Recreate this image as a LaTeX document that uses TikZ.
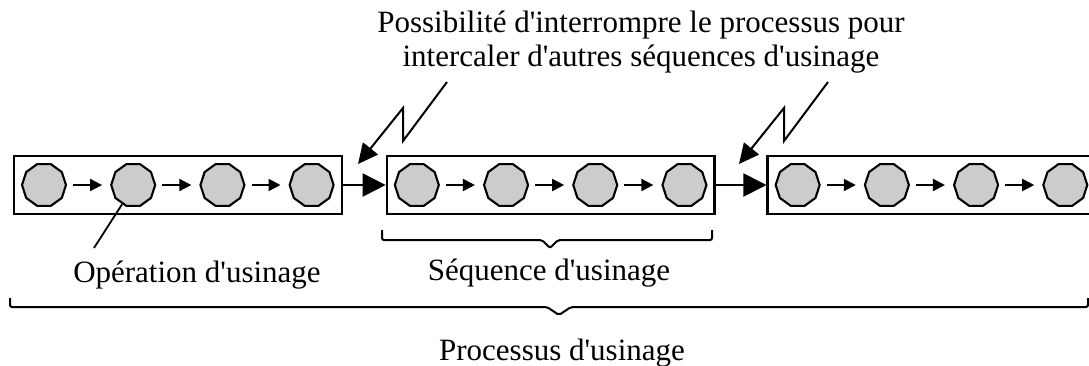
\documentclass[tikz,border=0pt]{standalone}
\usepackage{fontspec}
\setmainfont{Liberation Serif}
\usetikzlibrary{positioning,arrows.meta,shapes.geometric,fit}
\tikzset{
  opnode/.style={regular polygon, regular polygon sides=10, draw, fill=black!20, line width=2.1pt, minimum size=44pt, inner sep=0pt},
  seqbox/.style={rectangle, draw, line width=2.2pt, inner sep=7pt},
  fwd/.style={-{Triangle[length=12pt, width=12pt]}, line width=2pt, shorten <=6pt, shorten >=8pt},
  bigfwd/.style={-{Triangle[length=23pt, width=23pt]}, line width=2pt},
  bolt/.style={-{Triangle[length=20pt, width=19pt]}, line width=2pt},
  leader/.style={line width=1.8pt},
  brc/.style={line width=2pt, rounded corners=2pt},
  lbl/.style={font=\fontsize{31}{34}\selectfont, inner sep=0pt},
}
\newcommand{\apo}{\textquotesingle}

\begin{document}
\begin{tikzpicture}[x=1pt, y=-1pt, node distance=43pt]
\useasboundingbox (0,0) rectangle (1089,365);
\clip (0,0) rectangle (1089,365);

%Operations
\node[opnode] (op11) at (44,185) {};
\node[opnode] (op12) [right=of op11] {};
\node[opnode] (op13) [right=of op12] {};
\node[opnode] (op14) [right=of op13] {};
\node[opnode] (op21) [right=59pt of op14] {};
\node[opnode] (op22) [right=of op21] {};
\node[opnode] (op23) [right=of op22] {};
\node[opnode] (op24) [right=of op23] {};
\node[opnode] (op31) [right=67pt of op24] {};
\node[opnode] (op32) [right=of op31] {};
\node[opnode] (op33) [right=of op32] {};
\node[opnode] (op34) [right=of op33] {};

%Sequences
\node[seqbox, fit=(op11.west)(op14.east)(op11.north)(op11.south)] (s1) {};
\node[seqbox, fit=(op21.west)(op24.east)(op21.north)(op21.south)] (s2) {};
\node[seqbox, fit=(op31.west)(op34.east)(op31.north)(op31.south)] (s3) {};

%Labels
\node[lbl, anchor=north, align=center] (note) at (641,11) {Possibilit\'e d\apo interrompre le processus pour\\intercaler d\apo autres s\'equences d\apo usinage};
\node[lbl, anchor=base] (oplbl) at (197,282) {Op\'eration d\apo usinage};
\node[lbl, anchor=base] (seqlbl) at (549,280) {S\'equence d\apo usinage};
\node[lbl, anchor=base] (proclbl) at (562,360) {Processus d\apo usinage};
\coordinate (b1) at (447,82);
\coordinate (b2) at (828,82);
\coordinate (oplead) at (94,248);

%Lines
\draw[fwd] (op11) -- (op12);
\draw[fwd] (op12) -- (op13);
\draw[fwd] (op13) -- (op14);
\draw[fwd] (op21) -- (op22);
\draw[fwd] (op22) -- (op23);
\draw[fwd] (op23) -- (op24);
\draw[fwd] (op31) -- (op32);
\draw[fwd] (op32) -- (op33);
\draw[fwd] (op33) -- (op34);
\draw[bigfwd] (s1) -- (s2);
\draw[bigfwd] (s2) -- (s3);
\draw[bolt] (b1) -- ++(-44,59) -- ++(0,-33) -- ++(-45,56);
\draw[bolt] (b2) -- ++(-44,59) -- ++(0,-33) -- ++(-45,56);
\draw[leader] (op12.240) -- (oplead);

%Braces
\draw[brc] (382,230) -- (382,240) -- (542,240) -- (550,248) -- (558,240) -- (712,240) -- (712,230);
\draw[brc] (10,298) -- (10,307) -- (547,307) -- (559,315) -- (571,307) -- (1088,307) -- (1088,298);
\end{tikzpicture}
\end{document}
